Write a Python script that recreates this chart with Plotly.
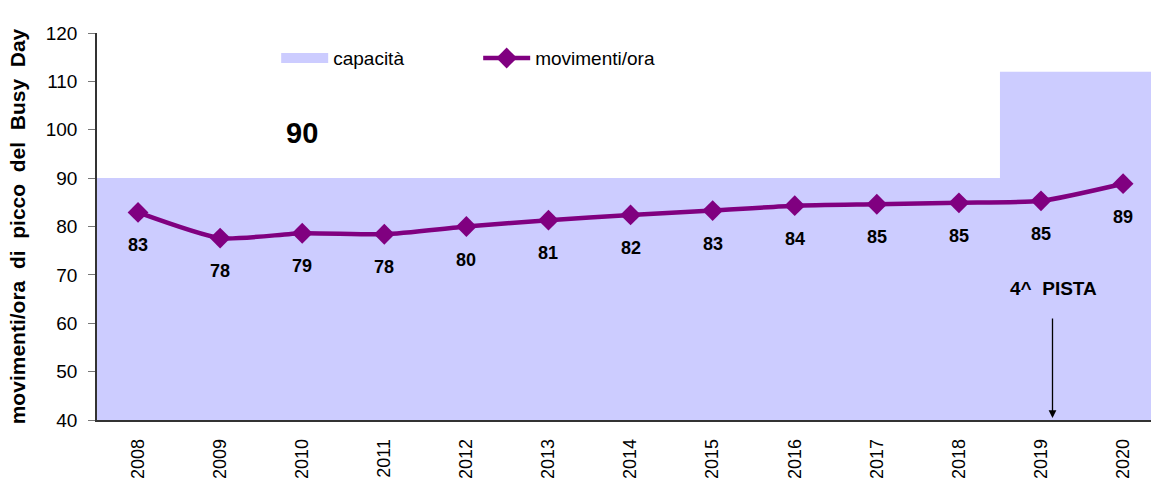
import plotly.graph_objects as go

years = ["2008", "2009", "2010", "2011", "2012", "2013", "2014",
         "2015", "2016", "2017", "2018", "2019", "2020"]
movimenti = [82.9, 77.6, 78.6, 78.4, 80.0, 81.3, 82.4, 83.3, 84.3, 84.6, 84.9, 85.3, 88.85]
movimenti_labels = ["83", "78", "79", "78", "80", "81", "82", "83", "84", "85", "85", "85", "89"]
capacita = [90, 90, 90, 90, 90, 90, 90, 90, 90, 90, 90, 112, 112]

FONT = "Liberation Sans, Arial, sans-serif"
PURPLE = "#800080"
FILL = "#CCCCFF"

idx = list(range(len(years)))
# step edges for capacity (category boundaries)
cap_x = [i - 0.5 for i in idx] + [idx[-1] + 0.5]
cap_y = capacita + [capacita[-1]]

fig = go.Figure()
fig.add_trace(go.Scatter(
    x=cap_x, y=cap_y, mode="lines", line=dict(width=0, shape="hv", color=FILL),
    fill="tozeroy", fillcolor=FILL, name="capacità", hoverinfo="skip",
    showlegend=False,
))
# legend entry for the capacity area (thick swatch)
fig.add_trace(go.Scatter(
    x=[None], y=[None], mode="lines", name="capacità",
    line=dict(width=17, color=FILL),
))
fig.add_trace(go.Scatter(
    x=idx, y=movimenti, mode="lines+markers", name="movimenti/ora",
    line=dict(color=PURPLE, width=4.5, shape="spline", smoothing=0.6),
    marker=dict(symbol="diamond", size=16, color=PURPLE),
))

for i, v in enumerate(movimenti):
    fig.add_annotation(x=i, y=v, text=movimenti_labels[i], showarrow=False,
                       yshift=-33, font=dict(family=FONT, size=18, color="black"),
                       xref="x", yref="y")

fig.add_annotation(x=2, y=99.3, text="90", showarrow=False,
                   font=dict(family=FONT, size=29, color="black"))
fig.add_annotation(x=11.0, y=121.7, text="112", showarrow=False,
                   font=dict(family=FONT, size=29, color="black"))
fig.add_annotation(x=11.15, y=67.1, text="4^  PISTA", showarrow=False,
                   font=dict(family=FONT, size=19, color="black"))
fig.add_annotation(x=11.14, y=40.4, ax=11.14, ay=61.3, axref="x", ayref="y",
                   text="", showarrow=True, arrowhead=2, arrowsize=1.2,
                   arrowwidth=1.3, arrowcolor="black")

for a in fig.layout.annotations:
    a.font.weight = "bold"

fig.update_layout(
    width=1151, height=480,
    margin=dict(l=97, r=0, t=33, b=60, autoexpand=False),
    paper_bgcolor="white", plot_bgcolor="white",
    font=dict(family=FONT, size=17, color="black"),
    showlegend=True,
    legend=dict(orientation="h", x=0.17, y=0.935, xanchor="left", yanchor="middle",
                bgcolor="rgba(0,0,0,0)", font=dict(family=FONT, size=19, color="black"),
                itemwidth=47, entrywidth=140, entrywidthmode="pixels",
                traceorder="normal"),
    xaxis=dict(range=[-0.5, 12.34], tickmode="array", tickvals=idx, ticktext=years,
               tickangle=-90, ticks="", showgrid=False, zeroline=False, automargin=False,
               showline=True, linecolor="#333", linewidth=1.5, ticklabelstandoff=10,
               tickfont=dict(family=FONT, size=18, color="black")),
    xaxis2=dict(range=[-0.5, 12.34], overlaying="x", side="bottom", tickmode="array",
                tickvals=cap_x, ticks="outside", ticklen=7, tickcolor="#777",
                showticklabels=False, showgrid=False, zeroline=False, showline=False),
    yaxis=dict(range=[40, 120], dtick=10, ticks="outside", ticklen=7, tickcolor="#777",
               showgrid=False, zeroline=False, showline=True, linecolor="#333",
               linewidth=1.5, tickfont=dict(family=FONT, size=19, color="black"),
               ticklabelstandoff=7, automargin=False,
               title=dict(text="<b>movimenti/ora  di  picco  del  Busy  Day</b>",
                          font=dict(family=FONT, size=21, color="black"), standoff=14)),
)

fig.write_html("out.html", config={"displayModeBar": False},
               post_script="document.body.style.margin='0';document.body.style.overflow='hidden';")
